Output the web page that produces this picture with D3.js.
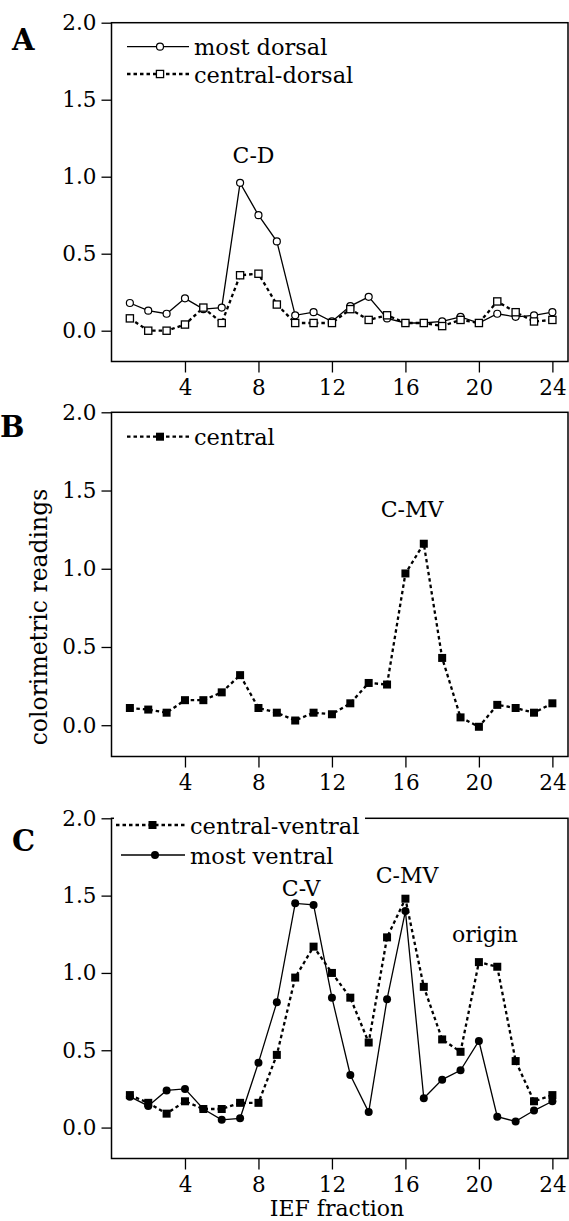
<!DOCTYPE html>
<html>
<head>
<meta charset="utf-8">
<script src="https://cdn.jsdelivr.net/npm/d3@7/dist/d3.min.js"></script>
<style>
  body { margin: 0; background: #fff; }
  svg { display: block; }
</style>
</head>
<body>
<svg id="chart" width="569" height="1221"></svg>
<script>
// IEF fractions along x
const fractions = [1,2,3,4,5,6,7,8,9,10,11,12,13,14,15,16,17,18,19,20,21,22,23,24];
const xTicks = [4, 8, 12, 16, 20, 24];
const yTicks = [0, 0.5, 1.0, 1.5, 2.0];

// panel A
const mostDorsal    = [0.18,0.13,0.11,0.21,0.14,0.15,0.96,0.75,0.58,0.10,0.12,0.06,0.16,0.22,0.08,0.05,0.05,0.06,0.09,0.05,0.11,0.09,0.10,0.12];
const centralDorsal = [0.08,0.00,0.00,0.04,0.15,0.05,0.36,0.37,0.17,0.05,0.05,0.05,0.14,0.07,0.10,0.05,0.05,0.03,0.07,0.05,0.19,0.12,0.06,0.07];
// panel B
const central       = [0.11,0.10,0.08,0.16,0.16,0.21,0.32,0.11,0.08,0.03,0.08,0.07,0.14,0.27,0.26,0.97,1.16,0.43,0.05,-0.01,0.13,0.11,0.08,0.14];
// panel C
const centralVentral = [0.21,0.16,0.09,0.17,0.12,0.12,0.16,0.16,0.47,0.97,1.17,1.00,0.84,0.55,1.23,1.48,0.91,0.57,0.49,1.07,1.04,0.43,0.17,0.21];
const mostVentral    = [0.20,0.14,0.24,0.25,0.12,0.05,0.06,0.42,0.81,1.45,1.44,0.84,0.34,0.10,0.83,1.40,0.19,0.31,0.37,0.56,0.07,0.04,0.11,0.17];

const svg = d3.select("#chart");
const font = "DejaVu Serif";

const x = d3.scaleLinear().domain([0, 24.85]).range([111.5, 568]);

function makeY(top, bottom) {
    return d3.scaleLinear().domain([-0.2, 2.0]).range([bottom, top]);
}

function drawMarker(g, kind, cx, cy) {
    if (kind == "openCircle") {
        g.append("circle").attr("cx", cx).attr("cy", cy).attr("r", 3.5)
            .attr("fill", "#fff").attr("stroke", "#000").attr("stroke-width", 1.2);
    } else if (kind == "openSquare") {
        g.append("rect").attr("x", cx - 3.6).attr("y", cy - 3.6).attr("width", 7.2).attr("height", 7.2)
            .attr("fill", "#fff").attr("stroke", "#000").attr("stroke-width", 1.3);
    } else if (kind == "square") {
        g.append("rect").attr("x", cx - 4).attr("y", cy - 4).attr("width", 8).attr("height", 8)
            .attr("fill", "#000");
    } else {
        g.append("circle").attr("cx", cx).attr("cy", cy).attr("r", 4).attr("fill", "#000");
    }
}

function lineStyle(sel, dotted) {
    sel.attr("fill", "none").attr("stroke", "#000");
    if (dotted) {
        sel.attr("stroke-width", 2.3).attr("stroke-dasharray", "3.5,3");
    } else {
        sel.attr("stroke-width", 1.3);
    }
}

function drawPanel(p) {
    const y = makeY(p.top, p.bottom);
    const g = svg.append("g");

    // frame
    g.append("rect")
        .attr("x", x(0)).attr("y", y(2.0))
        .attr("width", x(24.85) - x(0)).attr("height", y(-0.2) - y(2.0))
        .attr("fill", "none").attr("stroke", "#000").attr("stroke-width", 1.5);

    const yAxis = g.append("g")
        .attr("transform", "translate(" + x(0) + ",0)")
        .call(d3.axisLeft(y).tickValues(yTicks).tickFormat(d3.format(".1f")).tickSize(10).tickPadding(5));
    const xAxis = g.append("g")
        .attr("transform", "translate(0," + y(-0.2) + ")")
        .call(d3.axisBottom(x).tickValues(xTicks).tickSize(11).tickPadding(7));
    [yAxis, xAxis].forEach(a => {
        a.select(".domain").remove();
        a.selectAll("line").attr("stroke", "#000").attr("stroke-width", 1.3);
        a.selectAll("text").attr("font-family", font).attr("font-size", 21.5).attr("fill", "#000");
    });

    // series
    p.series.forEach(s => {
        const pts = fractions.map((f, i) => [f, s.values[i]]);
        g.append("path")
            .attr("d", d3.line().x(d => x(d[0])).y(d => y(d[1]))(pts))
            .call(lineStyle, s.dotted);
    });
    p.series.forEach(s => {
        fractions.forEach((f, i) => drawMarker(g, s.marker, x(f), y(s.values[i])));
    });

    // legend
    if (p.legendMask) {
        g.append("rect")
            .attr("x", p.legendMask[0]).attr("y", y(2.0) - 4)
            .attr("width", p.legendMask[1] - p.legendMask[0]).attr("height", 8)
            .attr("fill", "#fff");
    }
    p.legend.forEach(l => {
        g.append("line")
            .attr("x1", l.x1).attr("x2", l.x2).attr("y1", l.y).attr("y2", l.y)
            .call(lineStyle, l.dotted);
        drawMarker(g, l.marker, (l.x1 + l.x2) / 2 + 2, l.y);
        g.append("text")
            .attr("x", l.x2 + 5).attr("y", l.y + 8.5)
            .attr("font-family", font).attr("font-size", 22.5)
            .text(l.label);
    });

    // peak labels
    p.notes.forEach(n => {
        g.append("text")
            .attr("x", x(n.x)).attr("y", y(n.y))
            .attr("text-anchor", "middle")
            .attr("font-family", font).attr("font-size", 22)
            .text(n.label);
    });

    g.append("text")
        .attr("x", p.letterX).attr("y", p.letterY)
        .attr("font-family", font).attr("font-weight", "bold").attr("font-size", 29)
        .text(p.letter);
}

drawPanel({
    top: 22.7, bottom: 361.5, letter: "A", letterX: 12, letterY: 50,
    series: [
        { values: mostDorsal, marker: "openCircle", dotted: false },
        { values: centralDorsal, marker: "openSquare", dotted: true }
    ],
    legend: [
        { label: "most dorsal", marker: "openCircle", dotted: false, x1: 127, x2: 189, y: 46.7 },
        { label: "central-dorsal", marker: "openSquare", dotted: true, x1: 127, x2: 189, y: 74 }
    ],
    notes: [{ label: "C-D", x: 7.73, y: 1.09 }]
});

drawPanel({
    top: 412.3, bottom: 756.5, letter: "B", letterX: 0, letterY: 437,
    series: [
        { values: central, marker: "square", dotted: true }
    ],
    legend: [
        { label: "central", marker: "square", dotted: true, x1: 127, x2: 189, y: 436.7 }
    ],
    notes: [{ label: "C-MV", x: 16.36, y: 1.33 }]
});

drawPanel({
    top: 818.3, bottom: 1158.5, letter: "C", letterX: 12, letterY: 851,
    legendMask: [114, 365],
    series: [
        { values: mostVentral, marker: "circle", dotted: false },
        { values: centralVentral, marker: "square", dotted: true }
    ],
    legend: [
        { label: "central-ventral", marker: "square", dotted: true, x1: 116, x2: 185, y: 825 },
        { label: "most ventral", marker: "circle", dotted: false, x1: 121, x2: 185, y: 855 }
    ],
    notes: [
        { label: "C-V", x: 10.32, y: 1.50 },
        { label: "C-MV", x: 16.09, y: 1.58 },
        { label: "origin", x: 20.33, y: 1.20 }
    ]
});

// axis titles
svg.append("text")
    .attr("transform", "translate(47,617) rotate(-90)")
    .attr("text-anchor", "middle")
    .attr("font-family", font).attr("font-size", 23.5)
    .text("colorimetric readings");

svg.append("text")
    .attr("x", 337).attr("y", 1216)
    .attr("text-anchor", "middle")
    .attr("font-family", font).attr("font-size", 22)
    .text("IEF fraction");
</script>
</body>
</html>
